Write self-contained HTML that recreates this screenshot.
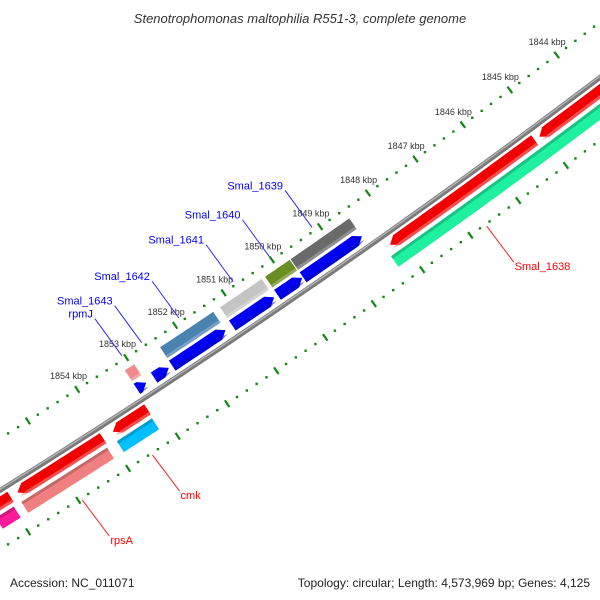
<!DOCTYPE html>
<html><head><meta charset="utf-8"><style>
html,body{margin:0;padding:0;background:#fff;width:600px;height:600px;overflow:hidden;}
svg{display:block;font-family:"Liberation Sans",sans-serif;overflow:hidden;}
</style></head><body>
<svg id="map" width="600" height="600" viewBox="0 0 600 600">
<rect width="600" height="600" fill="#fff"/>
<text x="300" y="23" text-anchor="middle" font-size="13" font-style="italic" fill="#333">Stenotrophomonas maltophilia R551-3, complete genome</text>
<text x="10" y="587" font-size="12" fill="#222">Accession: NC_011071</text>
<text x="590" y="587" text-anchor="end" font-size="12" fill="#222">Topology: circular; Length: 4,573,969 bp; Genes: 4,125</text>
<g id="plot"></g>
</svg>
<script>
// ---- data (kbp) ----
const fwdNames = ["rpmJ","Smal_1643","Smal_1642","Smal_1641","Smal_1640","Smal_1639"];
const fwdStart = [1852.95,1852.49,1851.33,1850.33,1849.75,1848.51];
const fwdEnd   = [1853.14,1852.79,1852.42,1851.19,1850.26,1849.73];
const fwdCogColor = ["#f08a8a",null,"#4a82b0","#c4c4c4","#6b8e23","#6a6a6a"];
const revNames = ["Smal_1638","","cmk","rpsA","",""];
const revStart = [1845.17,1839.00,1853.18,1854.08,1855.94,1856.30];
const revEnd   = [1848.20,1845.07,1853.88,1855.80,1858.60,1856.30];
const revCogName = ["Smal_1638","cmk","rpsA","mag"];
const revCogStart = [1839.00,1853.20,1854.11,1855.98];
const revCogEnd   = [1848.30,1853.91,1855.83,1856.34];
const revCogColor = ["#1ef0a0","#00bfff","#f08080","#ff1a9a"];
const tickLabels = [1844,1845,1846,1847,1848,1849,1850,1851,1852,1853,1854];

// ---- geometry ----
const O=[300,294], ang=34.5*Math.PI/180, R=8000, PX=58.8, K0=1849, X0=55;
const T=[Math.cos(ang),-Math.sin(ang)], N=[Math.sin(ang),Math.cos(ang)];
function kx(k){return X0-(k-K0)*PX;}
function P(x,y){const phi=x/R, r=R+y; const a=r*Math.cos(phi)-R, b=r*Math.sin(phi);
  return [O[0]+b*T[0]+a*N[0], O[1]+b*T[1]+a*N[1]];}
const g=document.getElementById('plot');
const NS="http://www.w3.org/2000/svg";
function mk(tag,attrs){const e=document.createElementNS(NS,tag);for(const k in attrs)e.setAttribute(k,attrs[k]);g.appendChild(e);return e;}
function pts(a){return a.map(p=>p[0].toFixed(1)+","+p[1].toFixed(1)).join(" ");}
function shape(x1,x2,y1,y2,dir,head){
  const h=Math.min(head,x2-x1), ym=(y1+y2)/2, a=[];
  const steps=12;
  let bx1=x1,bx2=x2;
  if(dir>0)bx2=x2-h; if(dir<0)bx1=x1+h;
  for(let i=0;i<=steps;i++)a.push(P(bx1+(bx2-bx1)*i/steps,y1));
  if(dir>0)a.push(P(x2,ym));
  for(let i=steps;i>=0;i--)a.push(P(bx1+(bx2-bx1)*i/steps,y2));
  if(dir<0)a.push(P(x1,ym));
  return pts(a);
}
function band(x1,x2,y1,y2){const a=[];for(let i=0;i<=12;i++)a.push(P(x1+(x2-x1)*i/12,y1));for(let i=12;i>=0;i--)a.push(P(x1+(x2-x1)*i/12,y2));return pts(a);}
function arc(y,x1,x2){const a=[];for(let i=0;i<=40;i++)a.push(P(x1+(x2-x1)*i/40,y));return pts(a);}

// backbone
let e=mk('polyline',{points:arc(0,-480,480),fill:'none',stroke:'#7a7a7a','stroke-width':5});


e=mk('polyline',{points:arc(-1,-480,480),fill:'none',stroke:'#b0b0b0','stroke-width':1.5});



// tick rings
[-44,50].forEach((yy,ri)=>{
  for(let k=1838;k<=1860.001;k+=0.2){
    const kk=Math.round(k*10)/10, x=kx(kk);
    const c0=P(x,yy);
    if(c0[0]<-5||c0[0]>605||c0[1]<-5||c0[1]>605)continue;
    const major=Math.abs(kk-Math.round(kk))<0.01;
    let el;
    if(major){const a=P(x,yy-4),b=P(x,yy+4);
      el=mk('line',{x1:a[0],y1:a[1],x2:b[0],y2:b[1],stroke:'#118811','stroke-width':2.2});
    } else {
      el=mk('rect',{x:c0[0]-1.2,y:c0[1]-1.2,width:2.4,height:2.4,fill:'#118811'});}
    
    
  }
});
tickLabels.forEach(k=>{const c=P(kx(k),-60);
  const el=mk('text',{x:c[0],y:c[1]+3,'text-anchor':'middle','font-size':9,fill:'#333'});
  el.textContent=k+" kbp";
  
  
});

// forward genes
fwdNames.forEach((nm,i)=>{
  const x1=Math.min(kx(fwdStart[i]),kx(fwdEnd[i])), x2=Math.max(kx(fwdStart[i]),kx(fwdEnd[i]));
  if(fwdCogColor[i]){
    let c=mk('polygon',{points:band(x1,x2,-34,-21),fill:fwdCogColor[i]});
    
    
    c=mk('polygon',{points:band(x1,x2,-24,-21),fill:'#fff','fill-opacity':0.25});
    
    
  }
  let el=mk('polygon',{points:shape(x1,x2,-18,-6,1,8),fill:'#0000f0'});
  
  
  el=mk('polygon',{points:shape(x1,x2,-9,-6,1,8),fill:'#0000b0','fill-opacity':0.5});
  
  
  const xm=(x1+x2)/2, a=P(xm,-48), b=[a[0]-27,a[1]-37];
  el=mk('line',{x1:a[0],y1:a[1],x2:b[0],y2:b[1],stroke:'#2a2aff','stroke-width':1});
  
  
  el=mk('text',{x:b[0]-2,y:b[1]-1,'text-anchor':'end','font-size':11,fill:'#0000ff'});
  el.textContent=nm;
  
  
});

// reverse COG bars
revCogName.forEach((nm,i)=>{
  const x1=Math.min(kx(revCogStart[i]),kx(revCogEnd[i])), x2=Math.max(kx(revCogStart[i]),kx(revCogEnd[i]));
  let c=mk('polygon',{points:band(x1,x2,21,34),fill:revCogColor[i]});
  
  
  c=mk('polygon',{points:band(x1,x2,21,24),fill:'#000','fill-opacity':0.18});
  
  
});
// reverse genes
revNames.forEach((nm,i)=>{
  if(revStart[i]===revEnd[i])return;
  const x1=Math.min(kx(revStart[i]),kx(revEnd[i])), x2=Math.max(kx(revStart[i]),kx(revEnd[i]));
  let el=mk('polygon',{points:shape(x1,x2,5,17,-1,8),fill:'#f00000'});
  
  
  el=mk('polygon',{points:shape(x1,x2,14,17,-1,8),fill:'#ff8080','fill-opacity':0.6});
  
  
  if(nm){
    const xm=(x1+x2)/2, a=P(xm,52), b=[a[0]+27,a[1]+36];
    el=mk('line',{x1:a[0],y1:a[1],x2:b[0],y2:b[1],stroke:'#ff2020','stroke-width':1});
    
    
    el=mk('text',{x:b[0]+1,y:b[1]+8,'text-anchor':'start','font-size':11,fill:'#ff0000'});
    el.textContent=nm;
    
    
  }
});
</script>
</body></html>
